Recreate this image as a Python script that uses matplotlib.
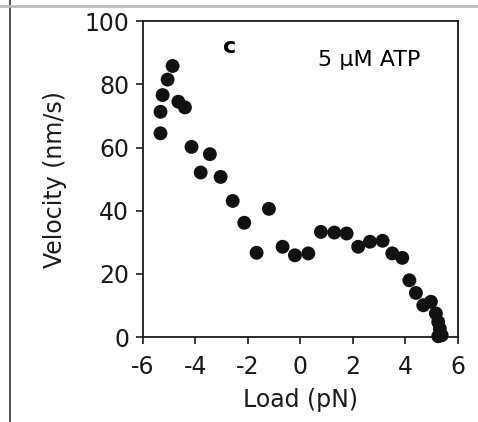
import matplotlib.pyplot as plt
from matplotlib.lines import Line2D

# load (pN) and velocity (nm/s)
load = [-5.33, -5.33, -5.25, -5.06, -4.87, -4.65, -4.40, -4.15, -3.80, -3.45,
        -3.04, -2.58, -2.14, -1.67, -1.20, -0.68, -0.21, 0.30, 0.78, 1.29,
        1.76, 2.20, 2.65, 3.13, 3.50, 3.88, 4.15, 4.40, 4.68, 4.97,
        5.16, 5.25, 5.31, 5.38, 5.25]
velocity = [64.5, 71.3, 76.6, 81.5, 85.8, 74.5, 72.7, 60.2, 52.1, 57.9,
            50.7, 43.1, 36.2, 26.7, 40.6, 28.6, 25.9, 26.5, 33.3, 33.1,
            32.8, 28.6, 30.2, 30.5, 26.5, 25.1, 18.0, 14.0, 10.1, 11.2,
            7.5, 4.8, 2.7, 0.6, 0.3]

xticks = [-6, -4, -2, 0, 2, 4, 6]
yticks = [0, 20, 40, 60, 80, 100]

plt.rcParams["font.family"] = ["DejaVu Sans"]
plt.rcParams["axes.unicode_minus"] = False

fig = plt.figure(figsize=(4.78, 4.22), dpi=100)
ax = fig.add_axes([0.299, 0.201, 0.659, 0.749])

ax.scatter(load, velocity, s=100, color="#111111", edgecolors="none", zorder=3,
           clip_on=False)

ax.set_xlim(-6, 6)
ax.set_ylim(0, 100)
ax.set_xticks(xticks)
ax.set_yticks(yticks)
ax.tick_params(direction="out", length=5, width=1.2, labelsize=17,
               colors="#1a1a1a")
ax.tick_params(axis="x", pad=8)
ax.tick_params(axis="y", pad=5)
for s in ax.spines.values():
    s.set_linewidth(1.3)
    s.set_color("#1a1a1a")

ax.set_xlabel("Load (pN)", fontsize=17, color="#1a1a1a", labelpad=6)
ax.set_ylabel("Velocity (nm/s)", fontsize=17, color="#1a1a1a", labelpad=12)

ax.text(0.276, 0.918, "c", transform=ax.transAxes, fontsize=16,
        fontweight="bold", ha="center", va="center")
ax.text(0.717, 0.877, "5 \u00b5M ATP", transform=ax.transAxes, fontsize=16,
        ha="center", va="center")

# scan frame remnants
fig.add_artist(Line2D([0.021, 0.021], [0.0, 1.0], transform=fig.transFigure,
                      color="#333333", linewidth=1.2))
fig.add_artist(Line2D([0.0, 1.0], [0.985, 0.985], transform=fig.transFigure,
                      color="#bbbbbb", linewidth=2))

fig.savefig("out.png", dpi=100)
